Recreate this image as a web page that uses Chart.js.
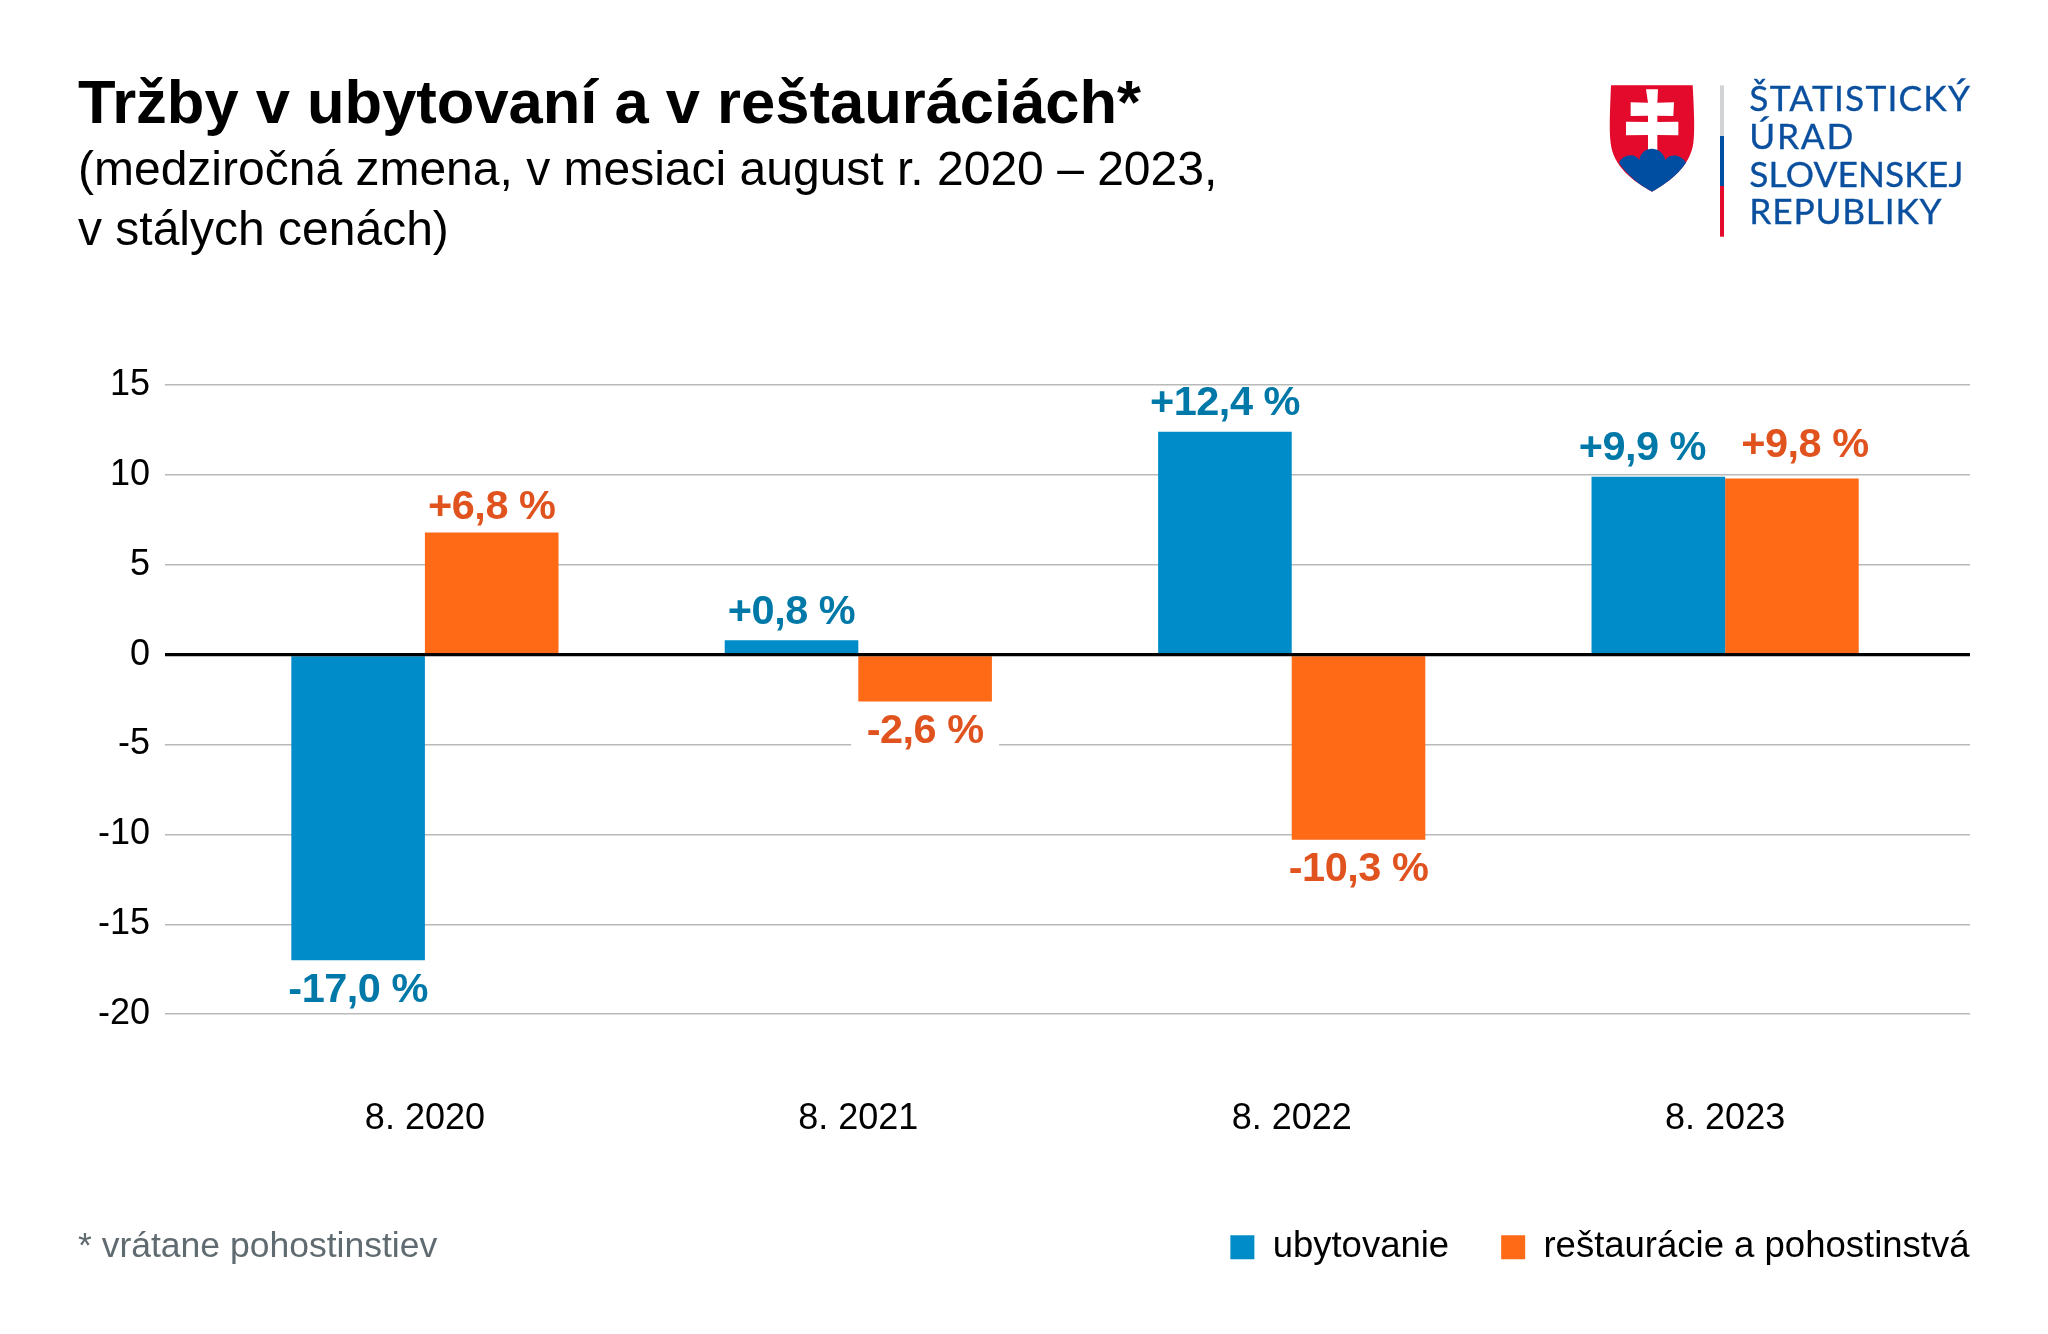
<!DOCTYPE html>
<html lang="sk">
<head>
<meta charset="utf-8">
<title>Tržby v ubytovaní a v reštauráciách</title>
<script src="https://cdn.jsdelivr.net/npm/chart.js@4"></script>
<style>
  html, body { margin: 0; padding: 0; background: #fff; }
  #box { position: relative; width: 2048px; height: 1334px; overflow: hidden; }
  #note { position: absolute; left: 78px; top: 1225px; font: 35.5px/40px "Liberation Sans"; color: #5f6b70; }
  #logo { position: absolute; left: 1580px; top: 60px; width: 420px; height: 190px; }
</style>
</head>
<body>
<div id="box">
  <canvas id="c" width="2048" height="1334"></canvas>
  <div id="note">* vrátane pohostinstiev</div>
  <svg id="logo" viewBox="0 0 1260 570">
    <path fill="#e30a2c" d="M93,76 L338,76 C342,150 345,210 340,250 C330,320 270,365 216,395 C160,365 100,320 92,250 C87,210 90,150 93,76 Z"/>
    <path fill="#fff" d="M198,88 L234,88 L232,128 L282,127 L280,168 L232,167 L232,186 L295,185 L295,226 L232,225 L232,275 L204,275 L204,225 L138,226 L138,185 L204,186 L204,167 L152,168 L152,127 L204,128 Z"/>
    <path fill="#004ea2" d="M117,308 C125,285 165,275 178,300 C185,255 245,255 256,300 C270,278 305,285 318,308 C290,350 250,375 216,395 C180,375 140,345 117,308 Z"/>
    <rect x="420" y="76" width="12" height="152" fill="#d1d3d4"/>
    <rect x="420" y="228" width="12" height="150" fill="#004ea2"/>
    <rect x="420" y="378" width="12" height="152" fill="#e30a2c"/>
    <g font-family="Lato" font-size="106" fill="#0b4f9f" stroke="#0b4f9f" stroke-width="1">
      <text x="508" y="152" textLength="662">ŠTATISTICKÝ</text>
      <text x="508" y="266" textLength="312">ÚRAD</text>
      <text x="508" y="380" textLength="642">SLOVENSKEJ</text>
      <text x="508" y="492" textLength="577">REPUBLIKY</text>
    </g>
  </svg>
</div>
<script>
const categories = ["8. 2020", "8. 2021", "8. 2022", "8. 2023"];
const ubytovanie = [-17.0, 0.8, 12.4, 9.9];
const restauracie = [6.8, -2.6, -10.3, 9.8];
const ubytovanieLabels = ["-17,0 %", "+0,8 %", "+12,4 %", "+9,9 %"];
const restauracieLabels = ["+6,8 %", "-2,6 %", "-10,3 %", "+9,8 %"];

const BLUE = "#008cc8";
const ORANGE = "#ff6a17";
const BLUE_TEXT = "#0078a8";
const ORANGE_TEXT = "#e0531f";

Chart.defaults.font.family = '"Liberation Sans"';
Chart.defaults.color = "#000";

const points = vals => vals.map((v, i) => ({ x: i, y: v }));

// rucne posunute popisky, ktore v predlohe nestoja presne nad stlpcom
const nudges = { "+9,9 %": [-16, 0], "+9,8 %": [13, -5], "+6,8 %": [0, 3] };

// nulova os nad stlpcami a popisky hodnot, biele pozadie prekryva mriezku
const valueLabels = {
  id: "valueLabels",
  afterDatasetsDraw(chart) {
    const { ctx, chartArea, scales } = chart;
    const zero = scales.y.getPixelForValue(0);
    ctx.save();
    ctx.strokeStyle = "#000";
    ctx.lineWidth = 3;
    ctx.beginPath();
    ctx.moveTo(chartArea.left, zero);
    ctx.lineTo(chartArea.right, zero);
    ctx.stroke();

    const sets = [
      { meta: chart.getDatasetMeta(0), texts: ubytovanieLabels, color: BLUE_TEXT },
      { meta: chart.getDatasetMeta(1), texts: restauracieLabels, color: ORANGE_TEXT }
    ];
    const items = [];
    sets.forEach(s => s.meta.data.forEach((bar, i) => {
      const text = s.texts[i];
      const [dx, dy] = nudges[text] || [0, 0];
      const neg = bar.y > bar.base;
      items.push({ x: bar.x + dx, y: bar.y + (neg ? 30 : -28) + dy, text, color: s.color });
    }));
    ctx.font = 'bold 41.5px "Liberation Sans"';
    ctx.textAlign = "center";
    ctx.textBaseline = "middle";
    ctx.letterSpacing = "-0.5px";
    ctx.fontKerning = "normal";
    items.forEach(it => {
      const w = ctx.measureText(it.text).width + 31;
      ctx.fillStyle = "#fff";
      ctx.fillRect(it.x - w / 2, it.y - 15, w, 30);
    });
    items.forEach(it => {
      ctx.fillStyle = it.color;
      ctx.fillText(it.text, it.x, it.y);
    });
    ctx.restore();
  }
};

// legenda konci presne na pravom okraji mriezky
const legendFlush = {
  id: "legendFlush",
  afterLayout(chart) { chart.legend.right += chart.options.plugins.legend.labels.padding - 0.5; }
};

new Chart(document.getElementById("c"), {
  type: "bar",
  data: {
    datasets: [
      { label: "ubytovanie", data: points(ubytovanie), backgroundColor: BLUE },
      { label: "reštaurácie a pohostinstvá", data: points(restauracie), backgroundColor: ORANGE }
    ]
  },
  options: {
    responsive: false,
    animation: false,
    datasets: { bar: { categoryPercentage: 0.6165, barPercentage: 1 } },
    layout: { padding: { top: 70, left: 78, right: 78, bottom: 58.6 } },
    scales: {
      x: {
        type: "linear",
        offset: false,
        min: -0.5997,
        max: 3.565,
        border: { display: false },
        grid: { display: false, drawTicks: false },
        ticks: {
          stepSize: 1,
          includeBounds: false,
          maxRotation: 0,
          padding: 83,
          font: { size: 36 },
          callback: v => categories[v]
        },
        afterFit: s => { s.height = 162.7; }
      },
      y: {
        min: -20,
        max: 15,
        border: { display: false },
        grid: {
          drawTicks: false,
          color: c => c.tick.value === 0 ? "#000" : "#b9b9b9",
          lineWidth: c => c.tick.value === 0 ? 3 : 1.5
        },
        ticks: { stepSize: 5, padding: 15, font: { size: 36 } },
        afterFit: s => { s.width = 87; }
      }
    },
    plugins: {
      title: {
        display: true,
        text: "Tržby v ubytovaní a v reštauráciách*",
        align: "start",
        color: "#000",
        font: { size: 61.5, weight: "bold", lineHeight: 1.16 },
        padding: { top: 0, bottom: 0 }
      },
      subtitle: {
        display: true,
        text: ["(medziročná zmena, v mesiaci august r. 2020 – 2023,", "v stálych cenách)"],
        align: "start",
        color: "#000",
        font: { size: 48, lineHeight: 1.25 },
        padding: { top: 0, bottom: 123.7 }
      },
      legend: {
        position: "bottom",
        align: "end",
        labels: { boxWidth: 24, boxHeight: 24, padding: 52, font: { size: 36.5 }, color: "#000" }
      },
      tooltip: { enabled: false }
    }
  },
  plugins: [valueLabels, legendFlush]
});
</script>
</body>
</html>
